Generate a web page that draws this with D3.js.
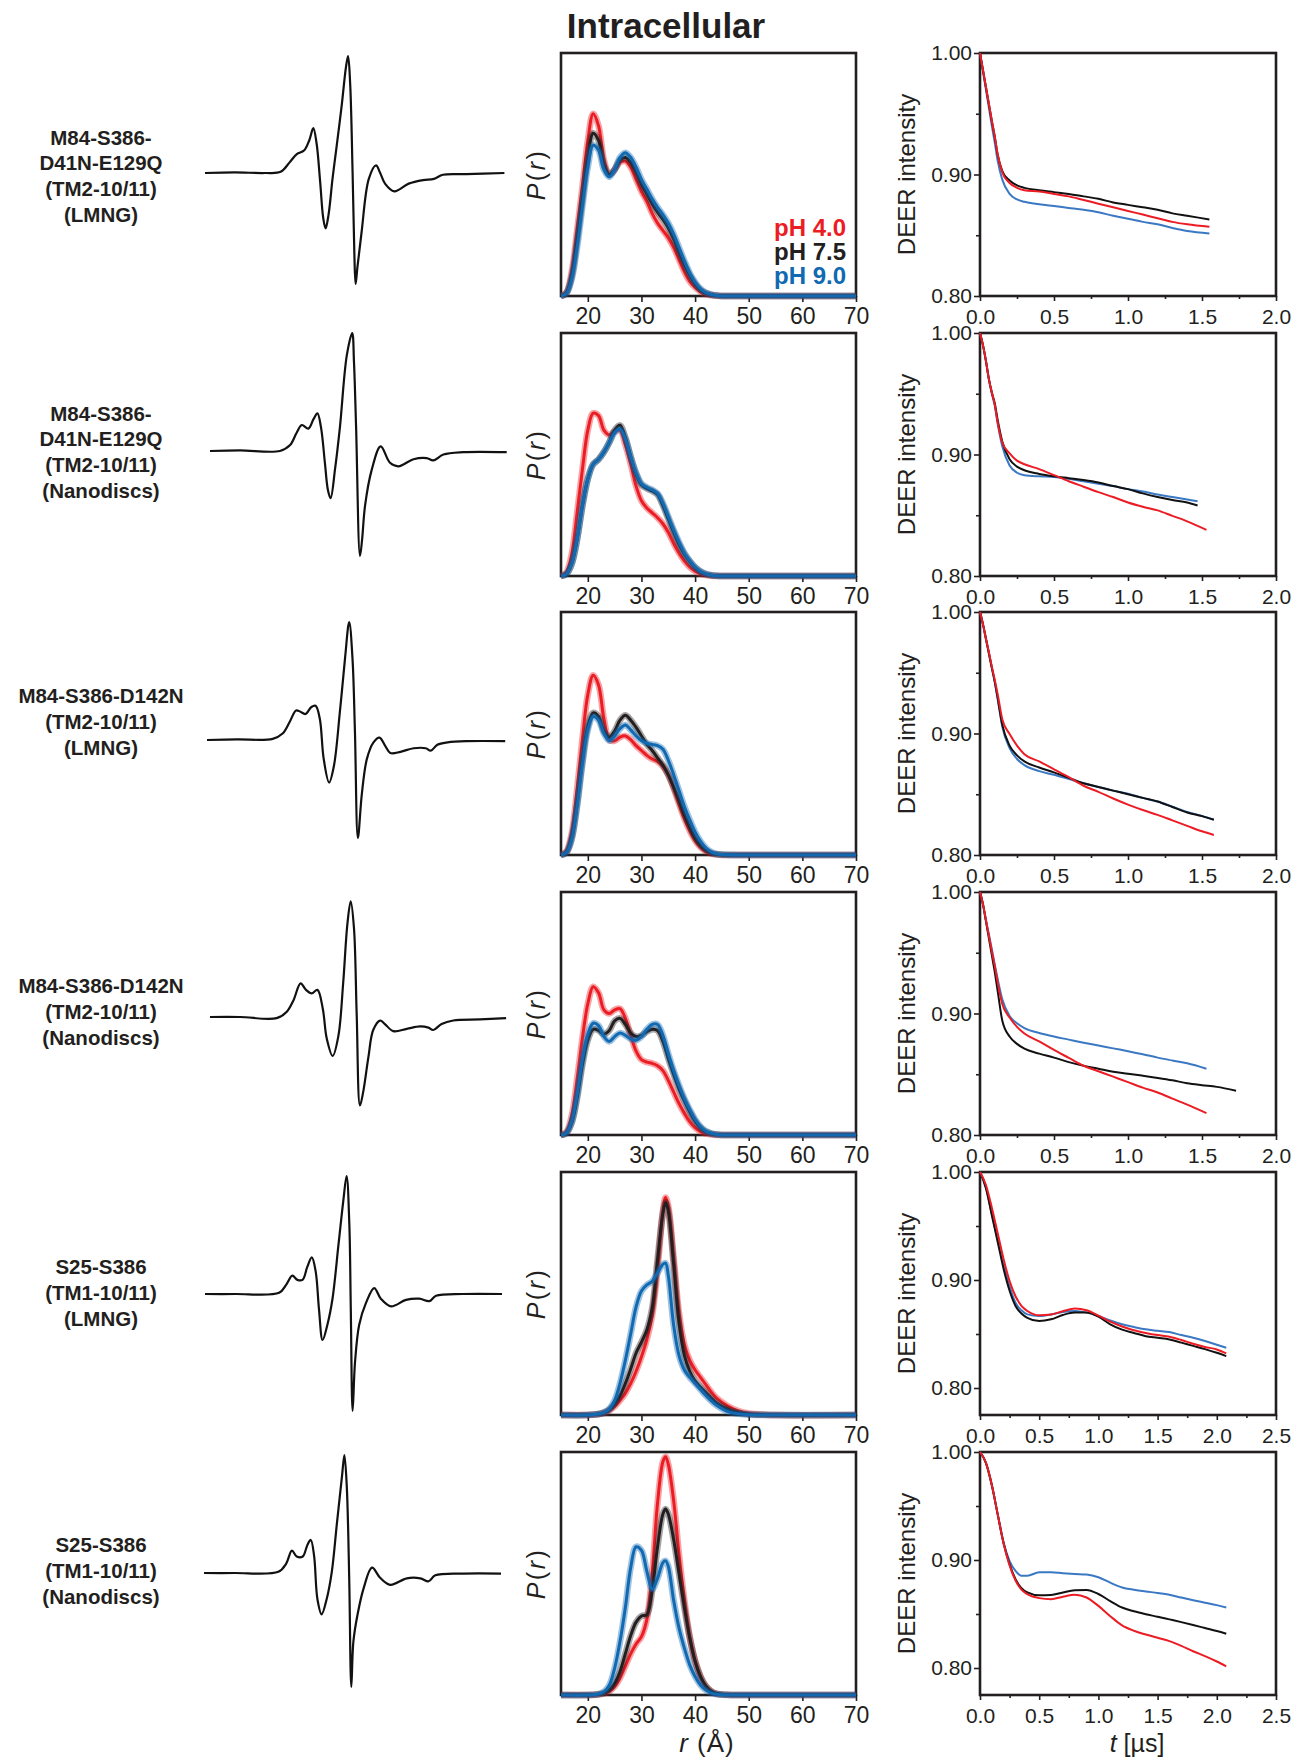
<!DOCTYPE html>
<html>
<head>
<meta charset="utf-8">
<script src="https://cdn.jsdelivr.net/npm/d3@7"></script>
<style>
  body { margin: 0; background: #fff; }
  svg { display: block; }
</style>
</head>
<body>
<svg id="fig" width="1294" height="1758"></svg>
<script>
// ---------- text ----------
const figureTitle = "Intracellular";
const sampleNames = [
  ["M84-S386-", "D41N-E129Q", "(TM2-10/11)", "(LMNG)"],
  ["M84-S386-", "D41N-E129Q", "(TM2-10/11)", "(Nanodiscs)"],
  ["M84-S386-D142N", "(TM2-10/11)", "(LMNG)"],
  ["M84-S386-D142N", "(TM2-10/11)", "(Nanodiscs)"],
  ["S25-S386", "(TM1-10/11)", "(LMNG)"],
  ["S25-S386", "(TM1-10/11)", "(Nanodiscs)"]
];
const phLabels = ["pH 4.0", "pH 7.5", "pH 9.0"];
const rTicks = [20, 30, 40, 50, 60, 70];
const deerYTicks = [0.80, 0.90, 1.00];
const deerYMinor = [0.85, 0.95];

// ---------- CW EPR spectra: [normalised field position, derivative amplitude] ----------
const epr1 = [[0,0],[10,0.005],[20,0],[25.2,0.01],[28.2,0.09],[30.6,0.16],[33,0.19],[34.8,0.28],[36.1,0.38],[37.2,0.25],[38.4,-0.08],[39.4,-0.38],[40.2,-0.47],[41.2,-0.35],[42.5,-0.05],[43.8,0.21],[45.6,0.58],[47.0,0.9],[47.7,0.99],[48.4,0.75],[49.2,0.0],[49.8,-0.7],[50.2,-0.94],[50.8,-0.8],[52.2,-0.5],[54.6,-0.05],[57.0,0.065],[58.4,0.0],[60.0,-0.09],[63.1,-0.155],[67.9,-0.09],[72.7,-0.06],[76.3,-0.05],[79.3,-0.015],[87.1,-0.01],[99.8,0]];
const epr2 = [[0,0],[10,0.005],[23.3,0],[26.7,0.05],[28.8,0.15],[30.6,0.22],[32.8,0.19],[34.5,0.27],[35.8,0.32],[37,0.2],[38.3,-0.1],[39.3,-0.33],[40.2,-0.40],[41.7,-0.15],[43.3,0.20],[45.6,0.81],[47.4,1.0],[48.0,0.75],[48.7,0.2],[50,-0.89],[50.7,-0.75],[51.7,-0.46],[53.9,-0.16],[56.9,0.04],[60,-0.10],[62.8,-0.13],[67.8,-0.07],[72.2,-0.06],[74.4,-0.08],[77.8,-0.03],[84.4,-0.01],[98.9,-0.01]];
const epr3 = [[0,0],[10,0.005],[21.9,0.01],[25.2,0.055],[27.5,0.15],[29.7,0.25],[31.1,0.24],[32.8,0.22],[34.8,0.28],[36.2,0.29],[37.6,0.18],[38.9,-0.16],[40.7,-0.36],[42.3,-0.22],[44.3,0.24],[46.0,0.69],[47.4,1.0],[48.5,0.69],[49.3,0.085],[50.3,-0.83],[51.6,-0.46],[53.3,-0.16],[55.5,-0.02],[57.5,0.02],[59.4,-0.05],[61.1,-0.11],[64.5,-0.10],[68.9,-0.07],[72.9,-0.07],[74.6,-0.09],[76.8,-0.04],[80.2,-0.02],[86.9,-0.01],[99.4,-0.01]];
const epr4 = [[0,0],[10,0],[22.2,-0.01],[25.6,0.045],[27.8,0.14],[30.2,0.285],[32.0,0.23],[33.9,0.20],[35.8,0.23],[37.6,0.07],[38.9,-0.18],[40.9,-0.33],[42.8,-0.16],[44.4,0.29],[45.8,0.79],[46.9,0.98],[48.0,0.75],[48.9,0.02],[50.0,-0.75],[51.1,-0.63],[52.8,-0.34],[54.4,-0.11],[56.7,-0.03],[58.3,-0.06],[61.1,-0.12],[65.6,-0.10],[70.0,-0.08],[72.8,-0.09],[74.4,-0.11],[77.2,-0.06],[81.1,-0.03],[90,-0.02],[98.7,-0.01]];
const epr5 = [[0,0],[10,0],[24.7,0.01],[27.1,0.08],[29.1,0.155],[30.8,0.12],[32.5,0.12],[34.1,0.23],[35.6,0.31],[36.9,0.19],[38.0,-0.13],[39.2,-0.39],[40.8,-0.26],[42.5,-0.04],[44.5,0.42],[46.1,0.79],[47.2,1.0],[48.1,0.6],[48.6,-0.13],[49.2,-0.99],[50.0,-0.58],[51.4,-0.26],[53.6,-0.08],[56.4,0.05],[58.6,-0.04],[62.0,-0.105],[67.0,-0.05],[71.4,-0.04],[74.8,-0.06],[77.0,-0.015],[85.9,0],[99,0]];
const epr6 = [[0,0],[10,0],[24.8,0.01],[27.4,0.08],[29.3,0.19],[30.9,0.14],[32.9,0.14],[34.5,0.24],[35.6,0.28],[36.7,0.145],[37.8,-0.22],[39.2,-0.35],[40.9,-0.22],[42.6,0.01],[44.3,0.42],[46.0,0.82],[46.8,1.0],[47.6,0.73],[48.4,-0.04],[49.1,-0.965],[49.8,-0.58],[51.2,-0.35],[53.2,-0.13],[56.0,0.045],[58.7,-0.04],[62.1,-0.10],[67.6,-0.045],[72.1,-0.045],[74.9,-0.07],[77.1,-0.02],[86.5,-0.005],[99,-0.005]];

// ---------- distance distributions P(r) ----------
const rGridTM2 = [15,16,17,18,19,20,21,22,23,24,25,26,27,28,29,30,31,32,33,34,35,36,37,38,39,40,41,42,43,44,45,50,60,70];
const rGridTM1 = [15,20,22,23,24,25,26,27,28,29,30,31,32,33,34,34.5,35,36,37,38,39,40,41,42,43,44,46,48,50,55,70];

const pr1_pH40 = [0,0.015,0.10,0.27,0.45,0.64,0.75,0.70,0.56,0.50, 0.52,0.55,0.555,0.53,0.48,0.43,0.39,0.34,0.30,0.27, 0.24,0.20,0.15,0.10,0.06,0.035,0.018,0.008,0.003,0.001, 0, 0,0,0];
const pr1_pH75 = [0,0.012,0.08,0.23,0.40,0.57,0.67,0.64,0.54,0.50, 0.52,0.56,0.57,0.55,0.51,0.46,0.42,0.38,0.345,0.315, 0.28,0.235,0.18,0.13,0.085,0.05,0.025,0.012,0.005,0.002, 0, 0,0,0];
const pr1_pH90 = [0,0.01,0.07,0.20,0.37,0.53,0.62,0.60,0.52,0.49, 0.52,0.57,0.59,0.57,0.53,0.48,0.44,0.40,0.365,0.335, 0.30,0.255,0.20,0.145,0.095,0.057,0.03,0.014,0.006,0.002, 0, 0,0,0];

const pr2_pH40 = [0,0.015,0.09,0.26,0.44,0.60,0.67,0.66,0.60,0.58, 0.595,0.60,0.54,0.46,0.37,0.31,0.28,0.26,0.24,0.215, 0.18,0.135,0.095,0.062,0.037,0.02,0.01,0.004,0.001,0, 0, 0,0,0];
const pr2_pH75 = [0,0.008,0.05,0.15,0.29,0.40,0.46,0.48,0.51,0.55, 0.60,0.62,0.57,0.49,0.42,0.375,0.36,0.35,0.335,0.29, 0.235,0.18,0.13,0.09,0.06,0.035,0.018,0.008,0.003,0.001, 0, 0,0,0];
const pr2_pH90 = [0,0.008,0.05,0.15,0.29,0.40,0.46,0.48,0.51,0.55, 0.59,0.605,0.565,0.49,0.425,0.38,0.365,0.355,0.34,0.30, 0.245,0.19,0.14,0.095,0.063,0.037,0.019,0.009,0.003,0.001, 0, 0,0,0];

const pr3_pH40 = [0,0.015,0.09,0.27,0.48,0.66,0.74,0.70,0.56,0.475, 0.47,0.485,0.49,0.475,0.45,0.43,0.41,0.395,0.385,0.365, 0.33,0.275,0.21,0.15,0.10,0.06,0.032,0.015,0.006,0.002, 0, 0,0,0];
const pr3_pH75 = [0,0.01,0.07,0.21,0.39,0.53,0.585,0.57,0.51,0.485, 0.51,0.555,0.575,0.555,0.525,0.49,0.455,0.43,0.40,0.37, 0.33,0.28,0.225,0.165,0.115,0.07,0.04,0.02,0.008,0.003, 0.001, 0,0,0];
const pr3_pH90 = [0,0.01,0.065,0.2,0.375,0.515,0.57,0.555,0.50,0.47, 0.49,0.52,0.535,0.515,0.49,0.47,0.46,0.455,0.45,0.435, 0.39,0.33,0.265,0.2,0.145,0.095,0.057,0.03,0.013,0.005, 0.002, 0,0,0];

const pr4_pH40 = [0,0.012,0.08,0.23,0.40,0.54,0.61,0.585,0.515,0.50, 0.515,0.52,0.48,0.41,0.345,0.31,0.30,0.295,0.285,0.265, 0.225,0.177,0.13,0.09,0.055,0.03,0.014,0.006,0.002,0, 0, 0,0,0];
const pr4_pH75 = [0,0.008,0.05,0.15,0.29,0.39,0.435,0.43,0.415,0.43, 0.47,0.48,0.455,0.42,0.405,0.41,0.425,0.435,0.43,0.385, 0.315,0.25,0.19,0.14,0.095,0.057,0.03,0.014,0.006,0.002, 0, 0,0,0];
const pr4_pH90 = [0,0.008,0.055,0.165,0.31,0.415,0.46,0.45,0.405,0.385, 0.405,0.42,0.41,0.395,0.39,0.405,0.435,0.455,0.455,0.41, 0.335,0.265,0.205,0.15,0.105,0.065,0.035,0.016,0.007,0.002, 0, 0,0,0];

const pr5_pH40 = [0,0,0.003,0.008,0.018,0.035,0.06,0.09,0.13,0.18, 0.24,0.31,0.41,0.60,0.84,0.895,0.86,0.65,0.42,0.29, 0.225,0.185,0.155,0.125,0.095,0.07,0.038,0.017,0.006,0, 0];
const pr5_pH75 = [0,0,0.004,0.01,0.022,0.045,0.08,0.13,0.19,0.255, 0.30,0.35,0.44,0.64,0.83,0.875,0.84,0.62,0.38,0.245, 0.18,0.14,0.115,0.092,0.07,0.05,0.025,0.01,0.003,0, 0];
const pr5_pH90 = [0,0,0.004,0.01,0.025,0.06,0.13,0.225,0.335,0.445, 0.51,0.535,0.55,0.585,0.62,0.625,0.575,0.37,0.245,0.185, 0.155,0.13,0.105,0.08,0.058,0.04,0.015,0.005,0.001,0, 0];

const pr6_pH40 = [0,0,0.002,0.006,0.015,0.035,0.07,0.12,0.17,0.21, 0.24,0.31,0.50,0.79,0.96,0.98,0.95,0.80,0.58,0.39, 0.24,0.14,0.075,0.035,0.015,0.005,0.001,0,0,0, 0];
const pr6_pH75 = [0,0,0.003,0.008,0.02,0.048,0.097,0.17,0.245,0.30, 0.325,0.33,0.43,0.61,0.745,0.765,0.745,0.64,0.50,0.36, 0.235,0.14,0.077,0.037,0.016,0.006,0.001,0,0,0, 0];
const pr6_pH90 = [0,0,0.004,0.014,0.04,0.11,0.22,0.36,0.525,0.61, 0.595,0.51,0.435,0.48,0.545,0.552,0.53,0.39,0.276,0.193, 0.124,0.076,0.041,0.02,0.008,0.003,0,0,0,0, 0];

// ---------- DEER traces: [t (µs), normalised echo intensity] ----------
const deer1_pH40 = [[0,1],[0.02,0.986],[0.04,0.972],[0.06,0.958],[0.08,0.944],[0.1,0.931],[0.12,0.916],[0.15,0.902],[0.2,0.893],[0.25,0.889],[0.3,0.887],[0.4,0.886],[0.5,0.884],[0.6,0.882],[0.7,0.879],[0.8,0.876],[0.9,0.873],[1.0,0.870],[1.1,0.867],[1.2,0.864],[1.3,0.861],[1.4,0.859],[1.55,0.857]];
const deer1_pH75 = [[0,1],[0.02,0.986],[0.04,0.972],[0.06,0.958],[0.08,0.944],[0.1,0.931],[0.12,0.916],[0.15,0.903],[0.2,0.895],[0.25,0.891],[0.3,0.889],[0.4,0.887],[0.5,0.8855],[0.6,0.884],[0.7,0.882],[0.8,0.880],[0.9,0.877],[1.0,0.875],[1.1,0.873],[1.2,0.871],[1.3,0.868],[1.4,0.866],[1.55,0.863]];
const deer1_pH90 = [[0,1],[0.02,0.985],[0.04,0.970],[0.06,0.955],[0.08,0.940],[0.1,0.926],[0.12,0.911],[0.15,0.896],[0.2,0.884],[0.25,0.8795],[0.3,0.8775],[0.4,0.8755],[0.5,0.874],[0.6,0.8725],[0.7,0.871],[0.8,0.869],[0.9,0.866],[1.0,0.8636],[1.1,0.861],[1.2,0.859],[1.3,0.856],[1.4,0.8535],[1.55,0.8515]];

const deer2_pH40 = [[0,1],[0.02,0.99],[0.04,0.977],[0.06,0.962],[0.08,0.951],[0.1,0.941],[0.12,0.926],[0.15,0.910],[0.2,0.901],[0.25,0.895],[0.3,0.892],[0.4,0.888],[0.5,0.883],[0.6,0.878],[0.7,0.8735],[0.8,0.869],[0.9,0.865],[1.0,0.8605],[1.1,0.857],[1.2,0.854],[1.3,0.8495],[1.4,0.845],[1.53,0.838]];
const deer2_pH75 = [[0,1],[0.02,0.99],[0.04,0.977],[0.06,0.962],[0.08,0.951],[0.1,0.942],[0.12,0.928],[0.15,0.911],[0.2,0.896],[0.25,0.89],[0.3,0.887],[0.4,0.884],[0.5,0.882],[0.6,0.8805],[0.7,0.879],[0.8,0.877],[0.9,0.874],[1.0,0.8715],[1.1,0.868],[1.2,0.865],[1.3,0.8625],[1.4,0.8605],[1.47,0.858]];
const deer2_pH90 = [[0,1],[0.02,0.99],[0.04,0.977],[0.06,0.962],[0.08,0.95],[0.1,0.94],[0.12,0.925],[0.15,0.907],[0.2,0.891],[0.25,0.885],[0.3,0.883],[0.4,0.882],[0.5,0.8815],[0.6,0.88],[0.7,0.878],[0.8,0.876],[0.9,0.874],[1.0,0.8715],[1.1,0.8695],[1.2,0.867],[1.3,0.865],[1.4,0.863],[1.47,0.8615]];

const deer3_pH40 = [[0,1],[0.02,0.99],[0.04,0.978],[0.06,0.967],[0.08,0.955],[0.1,0.944],[0.12,0.932],[0.15,0.912],[0.2,0.8995],[0.25,0.89],[0.3,0.883],[0.4,0.877],[0.5,0.8705],[0.6,0.864],[0.7,0.857],[0.8,0.852],[0.9,0.8465],[1.0,0.8415],[1.1,0.837],[1.2,0.833],[1.3,0.8285],[1.4,0.824],[1.5,0.8195],[1.58,0.8165]];
const deer3_pH75 = [[0,1],[0.02,0.99],[0.04,0.978],[0.06,0.966],[0.08,0.954],[0.1,0.9425],[0.12,0.929],[0.15,0.9075],[0.2,0.89],[0.25,0.882],[0.3,0.877],[0.4,0.872],[0.5,0.868],[0.6,0.8635],[0.7,0.859],[0.8,0.856],[0.9,0.853],[1.0,0.850],[1.1,0.847],[1.2,0.844],[1.3,0.8395],[1.4,0.835],[1.5,0.832],[1.58,0.829]];
const deer3_pH90 = [[0,1],[0.02,0.99],[0.04,0.978],[0.06,0.966],[0.08,0.954],[0.1,0.942],[0.12,0.928],[0.15,0.906],[0.2,0.888],[0.25,0.879],[0.3,0.874],[0.4,0.869],[0.5,0.866],[0.6,0.8625],[0.7,0.859],[0.8,0.856],[0.9,0.853],[1.0,0.8505],[1.1,0.847],[1.2,0.844],[1.3,0.8398],[1.4,0.8355],[1.5,0.8322],[1.58,0.8292]];

const deer4_pH40 = [[0,1],[0.02,0.99],[0.04,0.977],[0.06,0.964],[0.08,0.951],[0.1,0.939],[0.12,0.925],[0.15,0.908],[0.2,0.8967],[0.25,0.889],[0.3,0.8835],[0.4,0.877],[0.5,0.870],[0.6,0.8635],[0.7,0.857],[0.8,0.8525],[0.9,0.848],[1.0,0.8435],[1.1,0.839],[1.2,0.835],[1.3,0.83],[1.4,0.825],[1.53,0.818]];
const deer4_pH75 = [[0,1],[0.02,0.99],[0.04,0.976],[0.06,0.962],[0.08,0.948],[0.1,0.934],[0.12,0.918],[0.15,0.8945],[0.2,0.881],[0.25,0.875],[0.3,0.871],[0.4,0.867],[0.5,0.8637],[0.6,0.86],[0.7,0.857],[0.8,0.8545],[0.9,0.852],[1.0,0.8505],[1.1,0.8488],[1.2,0.847],[1.3,0.845],[1.4,0.8426],[1.5,0.841],[1.6,0.8396],[1.73,0.8365]];
const deer4_pH90 = [[0,1],[0.02,0.99],[0.04,0.977],[0.06,0.965],[0.08,0.953],[0.1,0.94],[0.12,0.928],[0.15,0.912],[0.2,0.898],[0.25,0.892],[0.3,0.888],[0.4,0.884],[0.5,0.881],[0.6,0.8785],[0.7,0.876],[0.8,0.8737],[0.9,0.8713],[1.0,0.869],[1.1,0.8665],[1.2,0.8637],[1.3,0.8613],[1.4,0.859],[1.53,0.8545]];

const deer5_pH40 = [[0,1],[0.05,0.988],[0.1,0.967],[0.15,0.943],[0.2,0.919],[0.25,0.899],[0.3,0.885],[0.35,0.876],[0.4,0.8713],[0.5,0.8673],[0.6,0.868],[0.7,0.871],[0.8,0.8735],[0.9,0.872],[1.0,0.867],[1.1,0.8615],[1.2,0.857],[1.3,0.8535],[1.4,0.851],[1.5,0.849],[1.6,0.8475],[1.7,0.8445],[1.8,0.841],[1.9,0.838],[2.0,0.8357],[2.08,0.832]];
const deer5_pH75 = [[0,1],[0.05,0.985],[0.1,0.96],[0.15,0.935],[0.2,0.910],[0.25,0.89],[0.3,0.876],[0.35,0.869],[0.4,0.865],[0.5,0.862],[0.6,0.8636],[0.7,0.8676],[0.8,0.8698],[0.9,0.8698],[1.0,0.866],[1.1,0.859],[1.2,0.854],[1.3,0.851],[1.4,0.848],[1.5,0.8465],[1.6,0.845],[1.7,0.842],[1.8,0.839],[1.9,0.836],[2.0,0.8326],[2.08,0.8295]];
const deer5_pH90 = [[0,1],[0.05,0.986],[0.1,0.961],[0.15,0.937],[0.2,0.913],[0.25,0.894],[0.3,0.879],[0.35,0.872],[0.4,0.8682],[0.5,0.8667],[0.6,0.868],[0.7,0.8704],[0.8,0.8712],[0.9,0.8698],[1.0,0.8667],[1.1,0.8625],[1.2,0.859],[1.3,0.8565],[1.4,0.8543],[1.5,0.853],[1.6,0.8518],[1.7,0.849],[1.8,0.8465],[1.9,0.8435],[2.0,0.840],[2.08,0.8372]];

const deer6_pH40 = [[0,1],[0.05,0.99],[0.1,0.9695],[0.15,0.942],[0.2,0.915],[0.25,0.895],[0.3,0.881],[0.35,0.8725],[0.4,0.8684],[0.5,0.8647],[0.6,0.8637],[0.7,0.866],[0.8,0.8678],[0.9,0.8653],[1.0,0.8575],[1.1,0.848],[1.2,0.8395],[1.3,0.8345],[1.4,0.831],[1.5,0.828],[1.6,0.8249],[1.7,0.8205],[1.8,0.8155],[1.9,0.811],[2.0,0.806],[2.08,0.8016]];
const deer6_pH75 = [[0,1],[0.05,0.99],[0.1,0.9695],[0.15,0.942],[0.2,0.915],[0.25,0.896],[0.3,0.8823],[0.35,0.874],[0.4,0.870],[0.5,0.8673],[0.6,0.8676],[0.7,0.870],[0.8,0.872],[0.9,0.8723],[1.0,0.8685],[1.1,0.862],[1.2,0.856],[1.3,0.8525],[1.4,0.8498],[1.5,0.8475],[1.6,0.845],[1.7,0.8425],[1.8,0.8398],[1.9,0.837],[2.0,0.8342],[2.08,0.8317]];
const deer6_pH90 = [[0,1],[0.05,0.99],[0.1,0.969],[0.15,0.942],[0.2,0.916],[0.25,0.899],[0.3,0.89],[0.35,0.8855],[0.4,0.8855],[0.5,0.8886],[0.6,0.8886],[0.7,0.8877],[0.8,0.887],[0.9,0.8865],[1.0,0.884],[1.1,0.879],[1.2,0.8746],[1.3,0.8725],[1.4,0.8709],[1.5,0.8695],[1.6,0.8678],[1.7,0.8652],[1.8,0.8628],[1.9,0.8605],[2.0,0.8582],[2.08,0.856]];

// ---------- per-row assembly ----------
const eprTraces = [epr1, epr2, epr3, epr4, epr5, epr6];
const prGrids = [rGridTM2, rGridTM2, rGridTM2, rGridTM2, rGridTM1, rGridTM1];
const prSeries = [
  [pr1_pH40, pr1_pH75, pr1_pH90], [pr2_pH40, pr2_pH75, pr2_pH90],
  [pr3_pH40, pr3_pH75, pr3_pH90], [pr4_pH40, pr4_pH75, pr4_pH90],
  [pr5_pH40, pr5_pH75, pr5_pH90], [pr6_pH40, pr6_pH75, pr6_pH90]
];
const deerSeries = [
  [deer1_pH40, deer1_pH75, deer1_pH90], [deer2_pH40, deer2_pH75, deer2_pH90],
  [deer3_pH40, deer3_pH75, deer3_pH90], [deer4_pH40, deer4_pH75, deer4_pH90],
  [deer5_pH40, deer5_pH75, deer5_pH90], [deer6_pH40, deer6_pH75, deer6_pH90]
];
const deerTMax = [2.0, 2.0, 2.0, 2.0, 2.5, 2.5];
const deerYMin = [0.80, 0.80, 0.80, 0.80, 0.775, 0.775];

// ---------- layout & style ----------
const FONT = "'Liberation Sans', Arial, Helvetica, sans-serif";
const ink = "#231f20";
const prColors = ["#ec1c24", "#231f20", "#1069b1"];
const deerColors = ["#ec1c24", "#111111", "#3b78c4"];
const rowTop = [53, 333, 612, 892, 1172, 1452];
const panelH = 243;
const prRange = [561, 856];
const deerRange = [980, 1276];
const eprX0 = [205, 210, 207, 210, 205, 204];
const eprBase = [173, 451, 740, 1017, 1294, 1573];
const eprHalf = 118;
const labelCY = [176, 452, 722, 1012, 1293, 1571];

const svg = d3.select("#fig");

function styleAxis(g, fontSize) {
  g.select(".domain").remove();
  g.attr("font-family", FONT).attr("font-size", fontSize);
  g.selectAll(".tick line").attr("stroke", ink).attr("stroke-width", 1.6);
  g.selectAll(".tick text").attr("fill", ink);
}

svg.append("text")
  .attr("x", 666).attr("y", 38)
  .attr("text-anchor", "middle")
  .attr("font-family", FONT).attr("font-weight", "bold").attr("font-size", 35)
  .attr("fill", ink)
  .text(figureTitle);

sampleNames.forEach((lines, i) => {
  const top = rowTop[i], bottom = top + panelH;

  // sample label
  const lab = svg.append("text")
    .attr("text-anchor", "middle")
    .attr("font-family", FONT).attr("font-weight", "bold").attr("font-size", 20.5)
    .attr("fill", ink);
  lines.forEach((s, k) => {
    lab.append("tspan")
      .attr("x", 101)
      .attr("y", labelCY[i] + (k - (lines.length - 1) / 2) * 25.7)
      .attr("dy", "0.35em")
      .text(s);
  });

  // CW EPR spectrum
  const ex = d3.scaleLinear().domain([0, 100]).range([eprX0[i], eprX0[i] + 300]);
  const ey = d3.scaleLinear().domain([-1, 1]).range([eprBase[i] + eprHalf, eprBase[i] - eprHalf]);
  svg.append("path")
    .datum(eprTraces[i])
    .attr("fill", "none").attr("stroke", "#111").attr("stroke-width", 2.2)
    .attr("stroke-linejoin", "round")
    .attr("d", d3.line().x(d => ex(d[0])).y(d => ey(d[1])).curve(d3.curveCatmullRom.alpha(0.5)));

  // P(r) panel
  const px = d3.scaleLinear().domain([15, 70]).range(prRange);
  const py = d3.scaleLinear().domain([0, 1]).range([bottom, top]);
  svg.append("rect")
    .attr("x", prRange[0]).attr("y", top)
    .attr("width", prRange[1] - prRange[0]).attr("height", panelH)
    .attr("fill", "none").attr("stroke", ink).attr("stroke-width", 2.6);
  const gx = svg.append("g").attr("transform", `translate(0,${bottom})`)
    .call(d3.axisBottom(px).tickValues(rTicks).tickSize(6).tickPadding(6).tickFormat(d3.format("d")));
  styleAxis(gx, 23);

  const prLine = d3.line().x(d => px(d[0])).y(d => py(Math.max(0, d[1]))).curve(d3.curveCatmullRom.alpha(0.5));
  prSeries[i].forEach((vals, s) => {
    const pts = prGrids[i].map((r, j) => [r, vals[j]]);
    svg.append("path").datum(pts)
      .attr("fill", "none").attr("stroke", prColors[s]).attr("stroke-opacity", 0.4)
      .attr("stroke-width", 6.5).attr("stroke-linejoin", "round")
      .attr("d", prLine);
    svg.append("path").datum(pts)
      .attr("fill", "none").attr("stroke", prColors[s])
      .attr("stroke-width", 3).attr("stroke-linejoin", "round")
      .attr("d", prLine);
  });

  const prLab = svg.append("text")
    .attr("transform", `translate(536,${top + panelH / 2}) rotate(-90)`)
    .attr("text-anchor", "middle").attr("dy", "0.35em")
    .attr("font-family", FONT).attr("font-size", 25).attr("letter-spacing", 2.5)
    .attr("fill", ink);
  prLab.append("tspan").attr("font-style", "italic").text("P");
  prLab.append("tspan").text("(");
  prLab.append("tspan").attr("font-style", "italic").text("r");
  prLab.append("tspan").text(")");

  // DEER panel
  const tMax = deerTMax[i];
  const dx = d3.scaleLinear().domain([0, tMax]).range(deerRange);
  const dy = d3.scaleLinear().domain([deerYMin[i], 1.0]).range([bottom, top]);
  svg.append("rect")
    .attr("x", deerRange[0]).attr("y", top)
    .attr("width", deerRange[1] - deerRange[0]).attr("height", panelH)
    .attr("fill", "none").attr("stroke", ink).attr("stroke-width", 2.6);

  const majorT = d3.range(0, tMax + 0.001, 0.5);
  const minorT = d3.range(0.25, tMax, 0.5);
  const gdx = svg.append("g").attr("transform", `translate(0,${bottom})`)
    .call(d3.axisBottom(dx).tickValues(majorT).tickSize(5).tickPadding(8).tickFormat(d3.format(".1f")));
  styleAxis(gdx, 21);
  const gdxm = svg.append("g").attr("transform", `translate(0,${bottom})`)
    .call(d3.axisBottom(dx).tickValues(minorT).tickSize(3).tickFormat(""));
  styleAxis(gdxm, 21);

  const gdy = svg.append("g").attr("transform", `translate(${deerRange[0]},0)`)
    .call(d3.axisLeft(dy).tickValues(deerYTicks).tickSize(6).tickPadding(2).tickFormat(d3.format(".2f")));
  styleAxis(gdy, 21);
  const gdym = svg.append("g").attr("transform", `translate(${deerRange[0]},0)`)
    .call(d3.axisLeft(dy).tickValues(deerYMinor).tickSize(4).tickFormat(""));
  styleAxis(gdym, 21);

  const deerLine = d3.line().x(d => dx(d[0])).y(d => dy(d[1])).curve(d3.curveMonotoneX);
  [2, 1, 0].forEach(s => {
    svg.append("path").datum(deerSeries[i][s])
      .attr("fill", "none").attr("stroke", deerColors[s])
      .attr("stroke-width", 2).attr("stroke-linejoin", "round")
      .attr("d", deerLine);
  });

  svg.append("text")
    .attr("transform", `translate(907,${top + panelH / 2}) rotate(-90)`)
    .attr("text-anchor", "middle").attr("dy", "0.35em")
    .attr("font-family", FONT).attr("font-size", 24)
    .attr("fill", ink)
    .text("DEER intensity");
});

// legend (first P(r) panel)
const legendBase = [236, 260, 284];
phLabels.forEach((t, s) => {
  svg.append("text")
    .attr("x", 846).attr("y", legendBase[s])
    .attr("text-anchor", "end")
    .attr("font-family", FONT).attr("font-weight", "bold").attr("font-size", 24)
    .attr("fill", prColors[s])
    .text(t);
});

// bottom axis titles
const rLab = svg.append("text")
  .attr("x", 707).attr("y", 1752)
  .attr("text-anchor", "middle")
  .attr("font-family", FONT).attr("font-size", 26).attr("letter-spacing", 1)
  .attr("fill", ink);
rLab.append("tspan").attr("font-style", "italic").text("r");
rLab.append("tspan").text(" (Å)");

const tLab = svg.append("text")
  .attr("x", 1137).attr("y", 1752)
  .attr("text-anchor", "middle")
  .attr("font-family", FONT).attr("font-size", 25)
  .attr("fill", ink);
tLab.append("tspan").attr("font-style", "italic").text("t");
tLab.append("tspan").text(" [µs]");
</script>
</body>
</html>
